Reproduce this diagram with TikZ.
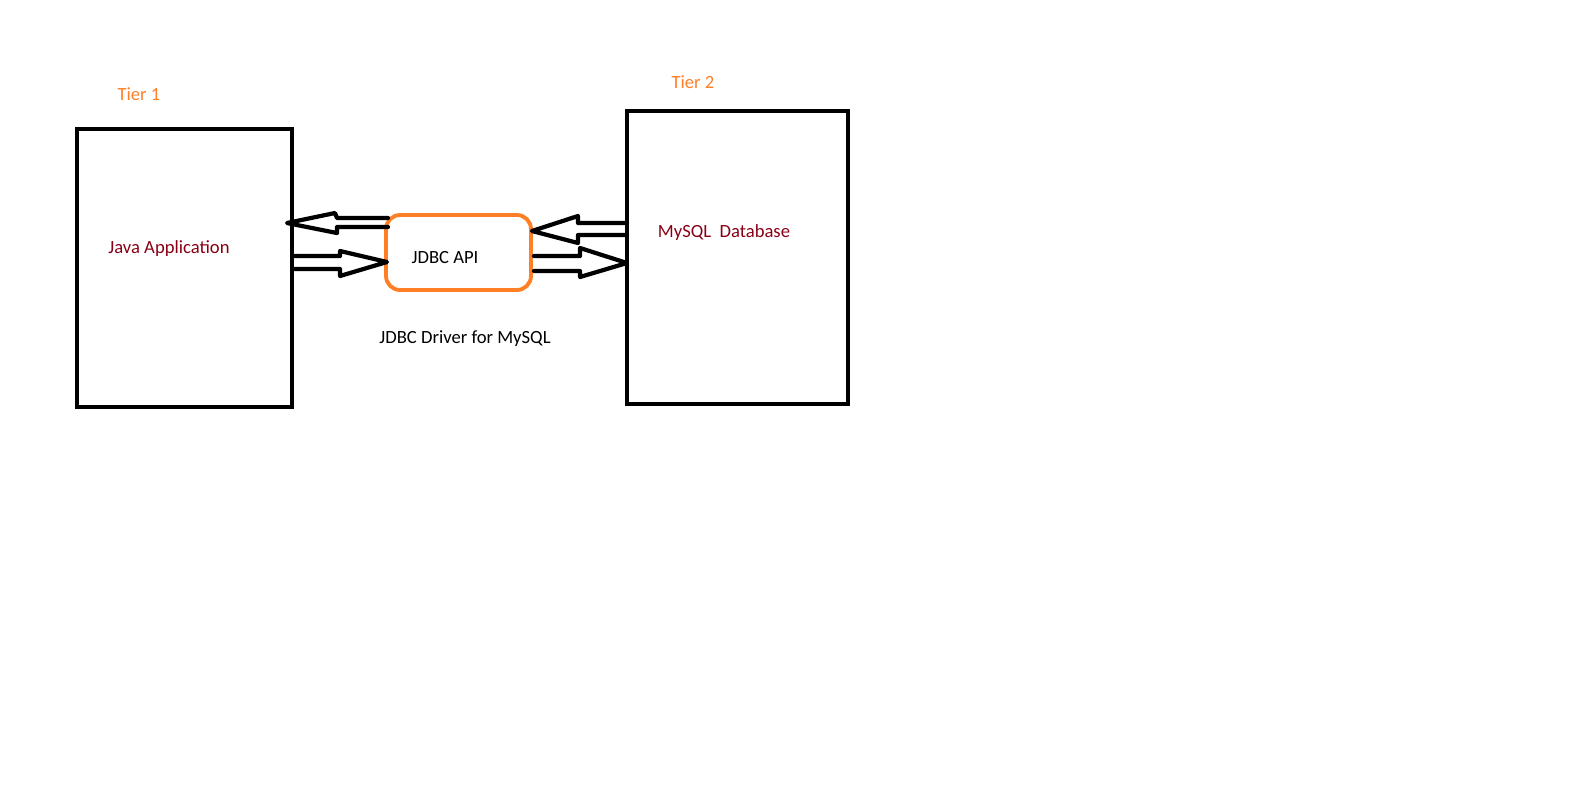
\documentclass[tikz,border=0pt]{standalone}
\usepackage{fontspec}
\setmainfont{Carlito}
\usepackage{xcolor}
\definecolor{tierorange}{HTML}{FF7F27}
\definecolor{labelred}{HTML}{880015}

\begin{document}
\begin{tikzpicture}[x=0.02cm,y=-0.02cm,
	tierbox/.style={draw,line width=2.6pt,rectangle,inner sep=0pt},
	apibox/.style={draw=tierorange,line width=2.2pt,rounded corners=8pt,inner sep=0pt,minimum width=2.9cm,minimum height=1.5cm},
	hollow/.style={line width=2.4pt,line join=round,line cap=round},
	txt/.style={font=\fontsize{10.6}{12}\selectfont}]
	\useasboundingbox (0,0) rectangle (1570,788);
	% tiers
	\node[tierbox,minimum width=4.3cm,minimum height=5.56cm] (java) at (184.5,268) {};
	\node[tierbox,minimum width=4.42cm,minimum height=5.86cm] (mysql) at (737.5,257.5) {};
	\node[apibox] (api) at (458.5,252.5) {};
	\node[txt,tierorange] (tier1) at (139,94) {Tier 1};
	\node[txt,tierorange] (tier2) at (693,82) {Tier 2};
	\node[txt,labelred] (javalabel) at (169,249) {Java Application};
	\node[txt,labelred] (mysqllabel) at (724,233) {MySQL\ \ Database};
	\node[txt] (apilabel) at (445,258) {JDBC API};
	\node[txt] (driver) at (465,339) {JDBC Driver for MySQL};
	% arrows
	\draw[hollow] (388,218) -- (337,218) -- (335,213) -- (287,223) -- (337,233) -- (337,227) -- (388,227);
	\draw[hollow] (293,256) -- (340,256) -- (340,251) -- (387,262) -- (340,276) -- (340,269) -- (293,269);
	\draw[hollow] (627,223) -- (578,223) -- (578,216) -- (532,231) -- (578,243) -- (578,235) -- (627,235);
	\draw[hollow] (534,256) -- (580,256) -- (580,248) -- (627,263) -- (580,277) -- (580,271) -- (534,271);
\end{tikzpicture}
\end{document}
